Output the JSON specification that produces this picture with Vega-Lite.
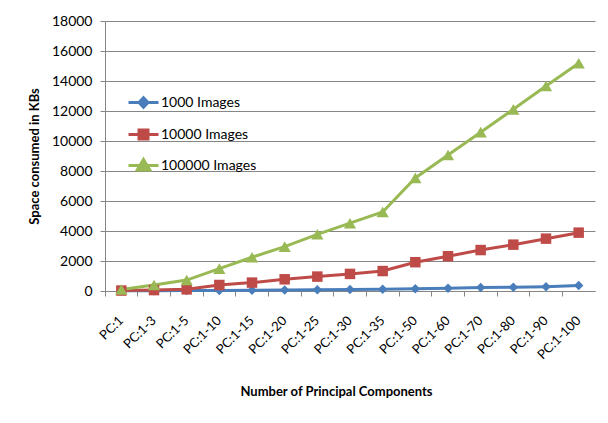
{
  "$schema": "https://vega.github.io/schema/vega-lite/v6.json",
  "width": 490,
  "height": 270,
  "autosize": "none",
  "padding": {"left": 105, "top": 21, "right": 13, "bottom": 132},
  "background": "white",
  "config": {
    "view": {"stroke": null},
    "font": "Lato",
    "axis": {"labelFont": "Lato", "titleFont": "Lato", "labelColor": "#000", "titleColor": "#000"}
  },
  "data": {
    "values": [
      {"pc": "PC:1", "series": "1000 Images", "kb": 10},
      {"pc": "PC:1-3", "series": "1000 Images", "kb": 20},
      {"pc": "PC:1-5", "series": "1000 Images", "kb": 30},
      {"pc": "PC:1-10", "series": "1000 Images", "kb": 40},
      {"pc": "PC:1-15", "series": "1000 Images", "kb": 55},
      {"pc": "PC:1-20", "series": "1000 Images", "kb": 70},
      {"pc": "PC:1-25", "series": "1000 Images", "kb": 80},
      {"pc": "PC:1-30", "series": "1000 Images", "kb": 95},
      {"pc": "PC:1-35", "series": "1000 Images", "kb": 110},
      {"pc": "PC:1-50", "series": "1000 Images", "kb": 150},
      {"pc": "PC:1-60", "series": "1000 Images", "kb": 190},
      {"pc": "PC:1-70", "series": "1000 Images", "kb": 230},
      {"pc": "PC:1-80", "series": "1000 Images", "kb": 250},
      {"pc": "PC:1-90", "series": "1000 Images", "kb": 290},
      {"pc": "PC:1-100", "series": "1000 Images", "kb": 360},
      {"pc": "PC:1", "series": "10000 Images", "kb": 30},
      {"pc": "PC:1-3", "series": "10000 Images", "kb": 60},
      {"pc": "PC:1-5", "series": "10000 Images", "kb": 110},
      {"pc": "PC:1-10", "series": "10000 Images", "kb": 400},
      {"pc": "PC:1-15", "series": "10000 Images", "kb": 560},
      {"pc": "PC:1-20", "series": "10000 Images", "kb": 780},
      {"pc": "PC:1-25", "series": "10000 Images", "kb": 960},
      {"pc": "PC:1-30", "series": "10000 Images", "kb": 1140},
      {"pc": "PC:1-35", "series": "10000 Images", "kb": 1330},
      {"pc": "PC:1-50", "series": "10000 Images", "kb": 1920},
      {"pc": "PC:1-60", "series": "10000 Images", "kb": 2320},
      {"pc": "PC:1-70", "series": "10000 Images", "kb": 2730},
      {"pc": "PC:1-80", "series": "10000 Images", "kb": 3090},
      {"pc": "PC:1-90", "series": "10000 Images", "kb": 3490},
      {"pc": "PC:1-100", "series": "10000 Images", "kb": 3890},
      {"pc": "PC:1", "series": "100000 Images", "kb": 100},
      {"pc": "PC:1-3", "series": "100000 Images", "kb": 400},
      {"pc": "PC:1-5", "series": "100000 Images", "kb": 730},
      {"pc": "PC:1-10", "series": "100000 Images", "kb": 1490},
      {"pc": "PC:1-15", "series": "100000 Images", "kb": 2250},
      {"pc": "PC:1-20", "series": "100000 Images", "kb": 2960},
      {"pc": "PC:1-25", "series": "100000 Images", "kb": 3780},
      {"pc": "PC:1-30", "series": "100000 Images", "kb": 4520},
      {"pc": "PC:1-35", "series": "100000 Images", "kb": 5270},
      {"pc": "PC:1-50", "series": "100000 Images", "kb": 7540},
      {"pc": "PC:1-60", "series": "100000 Images", "kb": 9070},
      {"pc": "PC:1-70", "series": "100000 Images", "kb": 10590},
      {"pc": "PC:1-80", "series": "100000 Images", "kb": 12110},
      {"pc": "PC:1-90", "series": "100000 Images", "kb": 13670},
      {"pc": "PC:1-100", "series": "100000 Images", "kb": 15180}
    ]
  },
  "encoding": {
    "x": {
      "field": "pc", "type": "nominal", "sort": null,
      "scale": {"type": "band", "paddingInner": 0, "paddingOuter": 0},
      "axis": {
        "title": "Number of Principal Components",
        "titleFontSize": 13, "titleFontWeight": "bold",
        "titleX": 231, "titleY": 104, "titleBaseline": "alphabetic", "titleAlign": "center",
        "labelAngle": -45, "labelFontSize": 13, "labelPadding": 22,
        "labelBaseline": "middle", "labelAlign": "right",
        "bandPosition": 0, "tickSize": 5, "tickColor": "#868686",
        "domainColor": "#868686", "grid": false
      }
    },
    "y": {
      "field": "kb", "type": "quantitative",
      "scale": {"domain": [0, 18000], "nice": false},
      "axis": {
        "title": "Space consumed in KBs",
        "titleFontSize": 13, "titleFontWeight": "bold",
        "titleX": -67, "titleY": 135, "titleAngle": -90, "titleBaseline": "alphabetic", "titleAlign": "center",
        "values": [0, 2000, 4000, 6000, 8000, 10000, 12000, 14000, 16000, 18000],
        "format": "d", "labelFontSize": 14, "labelPadding": 8,
        "tickSize": 5, "tickColor": "#868686", "domainColor": "#868686",
        "gridColor": "#868686", "gridWidth": 1
      }
    },
    "color": {
      "field": "series", "type": "nominal",
      "scale": {"domain": ["1000 Images", "10000 Images", "100000 Images"], "range": ["#4A7EBB", "#BE4B48", "#98B954"]},
      "legend": null
    }
  },
  "layer": [
    {
      "mark": {"type": "line", "strokeWidth": 3},
      "encoding": {
        "color": {
          "field": "series", "type": "nominal",
          "legend": {
            "title": null, "orient": "none", "legendX": 22, "legendY": 65,
            "padding": 0, "labelFontSize": 14, "labelFont": "Lato", "labelColor": "#000",
            "symbolSize": 900, "symbolStrokeWidth": 3, "rowPadding": 4, "labelOffset": 1,
            "encode": {
              "symbols": {
                "update": {
                  "shape": {"signal": "datum.value == '1000 Images' ? 'M-1,0H1M0,-0.32L0.3,0L0,0.32L-0.3,0Z' : datum.value == '10000 Images' ? 'M-1,0H1M-0.3,-0.3H0.3V0.3H-0.3Z' : 'M-1,0H1M0,-0.4L0.42,0.3H-0.42Z'"},
                  "fill": {"scale": "color", "field": "value"},
                  "stroke": {"scale": "color", "field": "value"},
                  "strokeWidth": {"value": 3}
                }
              }
            }
          }
        }
      }
    },
    {
      "transform": [{"filter": "datum.series == '1000 Images'"}],
      "mark": {"type": "point", "filled": true, "opacity": 1, "shape": "diamond", "size": 90}
    },
    {
      "transform": [{"filter": "datum.series == '10000 Images'"}],
      "mark": {"type": "point", "filled": true, "opacity": 1, "shape": "square", "size": 110}
    },
    {
      "transform": [{"filter": "datum.series == '100000 Images'"}],
      "mark": {"type": "point", "filled": true, "opacity": 1, "shape": "triangle-up", "size": 150}
    }
  ]
}
